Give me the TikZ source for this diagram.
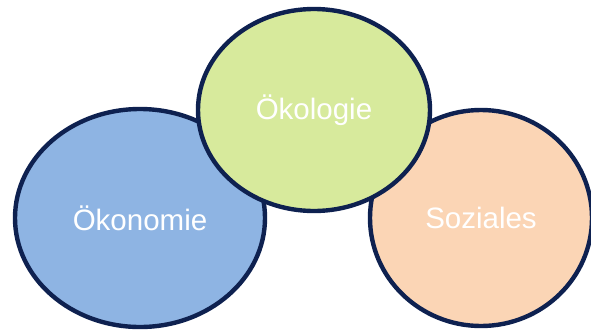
\documentclass[tikz,border=0pt]{standalone}
\usepackage{fontspec}
\setmainfont{Liberation Sans}
\usepackage{tikz}
\usetikzlibrary{shapes.geometric}

\definecolor{rand}{HTML}{0E2150}
\definecolor{blau}{HTML}{8EB4E3}
\definecolor{gruen}{HTML}{D7EA9C}
\definecolor{orange}{HTML}{FBD5B5}

\tikzset{
    kreis/.style={ellipse, draw=rand, line width=4.4pt, text=white,
        font=\fontsize{29.5}{32}\selectfont, inner sep=0pt}
}

\begin{document}
\begin{tikzpicture}[x=1pt,y=-1pt]
    \useasboundingbox (0,0) rectangle (591,330);
    % Drei Bereiche der Nachhaltigkeit
    \node[kreis, fill=blau, minimum width=250pt, minimum height=218pt] (oekonomie) at (140,218) {Ökonomie};
    \node[kreis, fill=orange, minimum width=222pt, minimum height=216pt] (soziales) at (481,218) {Soziales};
    \node[kreis, fill=gruen, minimum width=232pt, minimum height=202pt] (oekologie) at (314,110) {Ökologie};
\end{tikzpicture}
\end{document}
